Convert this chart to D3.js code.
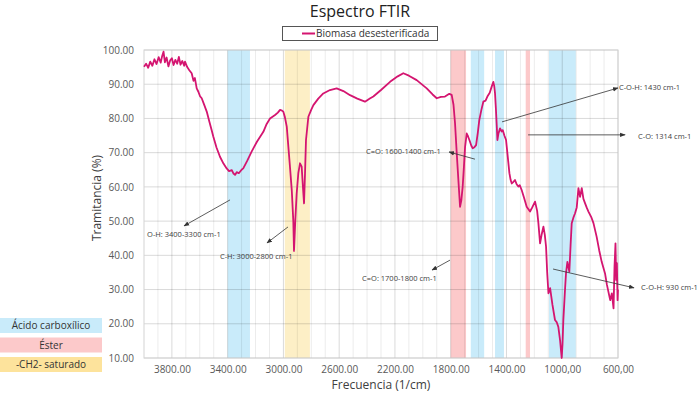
<!DOCTYPE html>
<html>
<head>
<meta charset="utf-8">
<script src="https://cdn.jsdelivr.net/npm/d3@7"></script>
<style>
  body { margin: 0; background: #fff; }
  svg { display: block; font-family: 'Open Sans', sans-serif; }
</style>
</head>
<body>
<svg width="699" height="396"></svg>
<script>
// wavenumber (1/cm) and transmittance (%)
const wavenumbers = [4000,3985,3970,3955,3940,3925,3910,3895,3880,3870,3860,3850,3838,3825,3812,3800,3788,3775,3762,3750,3738,3725,3712,3706,
  3690,3675,3658,3645,3635,3622,3610,3598,3586,3570,3550,3530,3515,3503,3480,3455,3430,3407,3390,3370,3358,3347,3335,3320,3300,3288,3260,3228,
  3190,3144,3120,3096,3060,3040,3024,3010,3001,2990,2976,2965,2953,2940,2929,2924,2915,2905,2893,2881,2869,2860,2852,2845,2838,2821,2800,2785,
  2750,2714,2666,2618,2570,2522,2470,2415,2380,2355,2300,2235,2180,2140,2100,2044,1972,1930,1900,1870,1841,1810,1793,1780,1769,1757,1745,1733,
  1724,1714,1705,1697,1685,1676,1666,1652,1642,1630,1618,1605,1595,1580,1566,1550,1537,1520,1506,1494,1488,1482,1476,1470,1465,1458,1446,1435,
  1427,1415,1403,1390,1379,1370,1362,1350,1339,1327,1315,1305,1291,1275,1255,1231,1215,1195,1180,1171,1159,1148,1135,1125,1116,1108,1099,1087,
  1070,1052,1040,1028,1015,1004,998,992,980,973,963,949,940,932,920,908,896,884,872,860,848,836,825,812,790,776,753,735,717,693,680,669,656,644,
  632,625,618,613,608,603,600]
const transmittance = [95.1,96.0,94.8,96.6,95.4,97.3,95.9,97.9,96.3,98.2,99.5,96.4,97.8,95.2,97.0,97.6,95.6,97.1,96.0,98.0,95.7,96.8,95.4,96.6,
  95.0,94.1,93.2,91.0,91.8,88.8,87.8,86.5,85.9,84.2,82.0,78.9,76.6,74.7,71.5,68.8,66.8,65.4,64.6,64.9,63.9,63.5,64.3,64.0,65.0,65.4,67.6,70.3,
  73.2,76.1,78.4,80.0,81.0,81.7,82.5,82.3,82.0,80.5,77.6,72.0,65.9,59.0,50.0,41.3,50.0,58.0,64.0,66.9,65.9,60.0,55.2,64.0,73.7,80.5,82.6,83.9,
  85.8,87.3,88.3,88.8,88.0,86.8,85.8,84.9,85.8,86.4,88.3,90.7,92.3,93.2,92.5,91.2,88.8,87.0,85.9,86.3,86.4,87.2,86.9,84.0,78.6,70.0,62.0,54.2,
  56.0,60.1,66.0,71.7,75.6,74.8,73.7,72.0,71.3,71.6,72.2,76.0,79.5,82.5,84.9,85.2,86.4,87.5,89.3,90.7,89.5,87.3,83.0,78.1,73.7,75.5,77.1,76.2,
  76.6,75.0,73.7,68.5,64.0,62.0,61.0,61.5,62.0,60.8,60.1,60.5,59.1,57.0,54.2,52.8,54.0,55.7,53.0,49.4,43.5,46.0,48.4,46.0,42.5,35.0,28.9,30.4,
  25.5,21.1,20.5,19.1,15.0,10.0,14.0,21.1,30.0,34.7,38.1,35.2,43.0,49.4,51.0,52.3,54.0,59.6,57.1,59.6,56.5,55.2,54.0,52.8,51.0,49.4,45.4,41.5,
  38.1,34.7,31.5,29.4,26.9,28.9,24.5,36.7,43.5,32.8,37.7,26.9,30.0]

const xTicks = [3800, 3400, 3000, 2600, 2200, 1800, 1400, 1000, 600]
const xTickLabels = ['3800.00', '3400.00', '3000.00', '2600.00', '2200.00', '1800.00', '1400.00', '1000,00', '600,00']
const yTicks = [10, 20, 30, 40, 50, 60, 70, 80, 90, 100]

// highlighted absorption regions [from, to, group]
const bandFrom = [3400, 2990, 1800, 1656, 1482, 1262, 1095]
const bandTo = [3240, 2810, 1690, 1560, 1418, 1231, 903]
const bandGroup = ['acid', 'ch2', 'ester', 'acid', 'acid', 'ester', 'acid']

const groupKeys = ['acid', 'ester', 'ch2']
const groupNames = ['Ácido carboxílico', 'Éster', '-CH2- saturado']

// annotations: label, arrow start, arrow end, text position (data units)
const noteLabels = ['O-H: 3400-3300 cm-1', 'C-H: 3000-2800 cm-1', 'C=O: 1600-1400 cm-1', 'C-O-H: 1430 cm-1',
  'C-O: 1314 cm-1', 'C=O: 1700-1800 cm-1', 'C-O-H: 930 cm-1']
const noteFrom = [[3383, 56.2], [2967, 48.3], [1626, 68.1], [1432, 79.0], [1245, 75.2], [1805, 38.6], [1066, 36.0]]
const noteTo = [[3713, 48.6], [3118, 43.6], [1812, 70.2], [600, 88.9], [549, 75.2], [1934, 35.7], [485, 30.5]]
const noteText = [[3978, 46.2], [3455, 39.8], [2407, 70.5], [593, 89.2], [456, 74.9], [2436, 33.4], [435, 30.7]]

const lineColor = '#d41570'
const groupColor = { acid: '#c9ebfa', ester: '#fcc9ca', ch2: '#fdefc6' }
const groupBoxColor = { acid: '#c9ebfa', ester: '#fcc9ca', ch2: '#fde39c' }

const svg = d3.select('svg')

const x = d3.scaleLinear().domain([4000, 600]).range([144, 618])
const y = d3.scaleLinear().domain([10, 100]).range([358, 50])

// bands
svg.append('g')
  .selectAll('rect')
  .data(bandFrom)
  .join('rect')
  .attr('x', d => x(d))
  .attr('width', (d, i) => x(bandTo[i]) - x(d))
  .attr('y', y(100))
  .attr('height', y(10) - y(100))
  .attr('fill', (d, i) => groupColor[bandGroup[i]])

// grid
const grid = svg.append('g')
grid.selectAll('.minor')
  .data(d3.range(3900, 600, -100).filter(v => !xTicks.includes(v)))
  .join('line')
  .attr('x1', d => x(d)).attr('x2', d => x(d))
  .attr('y1', y(100)).attr('y2', y(10))
  .attr('stroke', '#000').attr('stroke-opacity', 0.08)
grid.selectAll('.major')
  .data(xTicks)
  .join('line')
  .attr('x1', d => x(d)).attr('x2', d => x(d))
  .attr('y1', y(100)).attr('y2', y(10))
  .attr('stroke', '#000').attr('stroke-opacity', 0.15)
grid.selectAll('.hor')
  .data(yTicks)
  .join('line')
  .attr('x1', x(4000)).attr('x2', x(600))
  .attr('y1', d => y(d)).attr('y2', d => y(d))
  .attr('stroke', '#000').attr('stroke-opacity', 0.15)
grid.append('rect')
  .attr('x', x(4000)).attr('y', y(100))
  .attr('width', x(600) - x(4000)).attr('height', y(10) - y(100))
  .attr('fill', 'none').attr('stroke', '#d4d4d4')

// axes
const xAxis = svg.append('g')
  .attr('transform', 'translate(0,' + y(10) + ')')
  .call(d3.axisBottom(x).tickValues(xTicks).tickFormat((d, i) => xTickLabels[i]).tickSize(0).tickPadding(8))
xAxis.select('.domain').remove()

const yAxis = svg.append('g')
  .attr('transform', 'translate(' + x(4000) + ',0)')
  .call(d3.axisLeft(y).tickValues(yTicks).tickFormat(d3.format('.2f')).tickSize(0).tickPadding(10))
yAxis.select('.domain').remove()

svg.selectAll('.tick text')
  .attr('font-family', "'Open Sans', sans-serif")
  .attr('font-size', 10)
  .attr('fill', '#595959')

// spectrum
const line = d3.line()
  .x(d => x(d[0]))
  .y(d => y(d[1]))

svg.append('path')
  .datum(wavenumbers.map((w, i) => [w, transmittance[i]]))
  .attr('fill', 'none')
  .attr('stroke', lineColor)
  .attr('stroke-width', 1.8)
  .attr('stroke-linejoin', 'round')
  .attr('d', line)

// annotations
svg.append('defs').append('marker')
  .attr('id', 'arrow')
  .attr('viewBox', '0 0 10 10')
  .attr('refX', 9).attr('refY', 5)
  .attr('markerWidth', 7).attr('markerHeight', 7)
  .attr('orient', 'auto')
  .append('path')
  .attr('d', 'M0,1L10,5L0,9Z')
  .attr('fill', '#333')

const notes = svg.append('g')
notes.selectAll('line')
  .data(noteLabels)
  .join('line')
  .attr('x1', (d, i) => x(noteFrom[i][0])).attr('y1', (d, i) => y(noteFrom[i][1]))
  .attr('x2', (d, i) => x(noteTo[i][0])).attr('y2', (d, i) => y(noteTo[i][1]))
  .attr('stroke', '#333').attr('stroke-width', 0.8)
  .attr('marker-end', 'url(#arrow)')
notes.selectAll('text')
  .data(noteLabels)
  .join('text')
  .attr('x', (d, i) => x(noteText[i][0]))
  .attr('y', (d, i) => y(noteText[i][1]))
  .attr('dy', '0.35em')
  .attr('font-size', 7.5)
  .attr('fill', '#404040')
  .text(d => d)

// titles
svg.append('text')
  .attr('x', 360).attr('y', 17)
  .attr('text-anchor', 'middle')
  .attr('font-size', 16)
  .attr('fill', '#222')
  .text('Espectro FTIR')

svg.append('text')
  .attr('x', (x(4000) + x(600)) / 2).attr('y', 389)
  .attr('text-anchor', 'middle')
  .attr('font-size', 12)
  .attr('fill', '#404040')
  .text('Frecuencia (1/cm)')

svg.append('text')
  .attr('transform', 'translate(101,' + 198 + ') rotate(-90)')
  .attr('text-anchor', 'middle')
  .attr('font-size', 12)
  .attr('fill', '#404040')
  .text('Tramitancia (%)')

// series legend
const legend = svg.append('g')
legend.append('rect')
  .attr('x', 282.5).attr('y', 26.5).attr('width', 155).attr('height', 14)
  .attr('fill', '#fff').attr('stroke', '#555')
legend.append('line')
  .attr('x1', 302).attr('x2', 315).attr('y1', 33.5).attr('y2', 33.5)
  .attr('stroke', lineColor).attr('stroke-width', 2)
legend.append('text')
  .attr('x', 316).attr('y', 33.5).attr('dy', '0.35em')
  .attr('font-size', 10).attr('fill', '#333')
  .text('Biomasa desesterificada')

// region legend
const keys = svg.append('g')
keys.selectAll('rect')
  .data(groupKeys)
  .join('rect')
  .attr('x', 0).attr('y', (d, i) => 318 + i * 19.5)
  .attr('width', 102).attr('height', 15)
  .attr('fill', d => groupBoxColor[d])
keys.selectAll('text')
  .data(groupKeys)
  .join('text')
  .attr('x', 51).attr('y', (d, i) => 325.5 + i * 19.5)
  .attr('dy', '0.35em')
  .attr('text-anchor', 'middle')
  .attr('font-size', 10)
  .attr('fill', '#333')
  .text((d, i) => groupNames[i])
</script>
</body>
</html>
